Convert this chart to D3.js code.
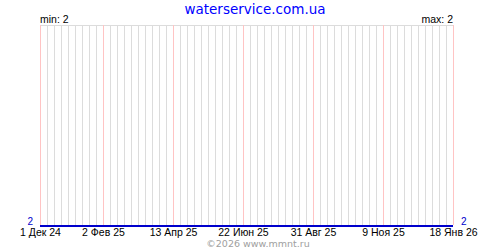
<!DOCTYPE html>
<html>
<head>
<meta charset="utf-8">
<script src="https://d3js.org/d3.v7.min.js"></script>
<style>
  body { margin: 0; background: #fff; }
  text { font-family: "Liberation Sans", Arial, sans-serif; }
</style>
</head>
<body>
<script>
  // series: dates and water level values (flat at 2)
  const dates = ["2024-12-01", "2025-02-02", "2025-04-13", "2025-06-22", "2025-08-31", "2025-11-09", "2026-01-18"];
  const values = [2, 2, 2, 2, 2, 2, 2];
  const tickDates = ["2024-12-01", "2025-02-02", "2025-04-13", "2025-06-22", "2025-08-31", "2025-11-09", "2026-01-18"];
  const tickLabels = ["1 Дек 24", "2 Фев 25", "13 Апр 25", "22 Июн 25", "31 Авг 25", "9 Ноя 25", "18 Янв 26"];
  const minValue = 2, maxValue = 2;

  const width = 500, height = 250;
  const plotLeft = 40, plotRight = 453, plotTop = 25, plotBottom = 226;

  const svg = d3.select("body").append("svg")
    .attr("width", width)
    .attr("height", height);

  const x = d3.scaleUtc()
    .domain([new Date(dates[0]), new Date(dates[dates.length - 1])])
    .range([plotLeft, plotRight]);
  const y = d3.scaleLinear()
    .domain([minValue, maxValue + 1])
    .range([plotBottom, plotTop]);

  // weekly grid lines
  const weeks = d3.utcSunday.range(new Date(dates[0]), d3.utcDay.offset(new Date(dates[dates.length - 1]), 1));
  svg.append("g").selectAll("line")
    .data(weeks)
    .join("line")
    .attr("x1", d => Math.round(x(d)) + 0.5)
    .attr("x2", d => Math.round(x(d)) + 0.5)
    .attr("y1", plotTop)
    .attr("y2", plotBottom - 1)
    .attr("stroke", "#dcdcdc")
    .attr("stroke-width", 1);

  // top border
  svg.append("line")
    .attr("x1", plotLeft).attr("x2", plotRight + 1)
    .attr("y1", plotTop + 0.5).attr("y2", plotTop + 0.5)
    .attr("stroke", "#dcdcdc");

  // label grid lines (pink)
  svg.append("g").selectAll("line")
    .data(tickDates)
    .join("line")
    .attr("x1", d => Math.round(x(new Date(d))) + 0.5)
    .attr("x2", d => Math.round(x(new Date(d))) + 0.5)
    .attr("y1", plotTop)
    .attr("y2", plotBottom - 1)
    .attr("stroke", "#ffc4c4")
    .attr("stroke-width", 1);

  // data line
  const line = d3.line()
    .x((d, i) => x(new Date(dates[i])))
    .y(d => y(d));
  svg.append("path")
    .attr("d", line(values))
    .attr("fill", "none")
    .attr("stroke", "#0000cc")
    .attr("stroke-width", 2);

  // x labels
  svg.append("g").selectAll("text")
    .data(tickDates)
    .join("text")
    .attr("x", d => x(new Date(d)) + 0.5)
    .attr("y", 236)
    .attr("text-anchor", "middle")
    .attr("font-size", "10.5px")
    .attr("fill", "#000")
    .text((d, i) => tickLabels[i]);

  // y end values
  svg.append("text")
    .attr("x", 33).attr("y", 224.5)
    .attr("text-anchor", "end")
    .attr("font-size", "10px")
    .attr("fill", "#0000cc")
    .text(values[0]);
  svg.append("text")
    .attr("x", 461).attr("y", 224.5)
    .attr("font-size", "10px")
    .attr("fill", "#0000cc")
    .text(values[values.length - 1]);

  // min / max
  svg.append("text")
    .attr("x", 40).attr("y", 23)
    .attr("font-size", "10.5px")
    .text("min: " + minValue);
  svg.append("text")
    .attr("x", 453).attr("y", 23)
    .attr("text-anchor", "end")
    .attr("font-size", "10.5px")
    .text("max: " + maxValue);

  // title
  svg.append("text")
    .attr("x", 255).attr("y", 14)
    .attr("text-anchor", "middle")
    .style("font-family", "'DejaVu Sans', Verdana, sans-serif")
    .attr("font-size", "13.5px")
    .attr("fill", "#0000ff")
    .text("waterservice.com.ua");

  // copyright
  svg.append("text")
    .attr("x", 258).attr("y", 247)
    .attr("text-anchor", "middle")
    .style("font-family", "'DejaVu Sans', Verdana, sans-serif")
    .attr("font-size", "9.5px")
    .attr("fill", "#a0a0a0")
    .text("©2026 www.mmnt.ru");
</script>
</body>
</html>
